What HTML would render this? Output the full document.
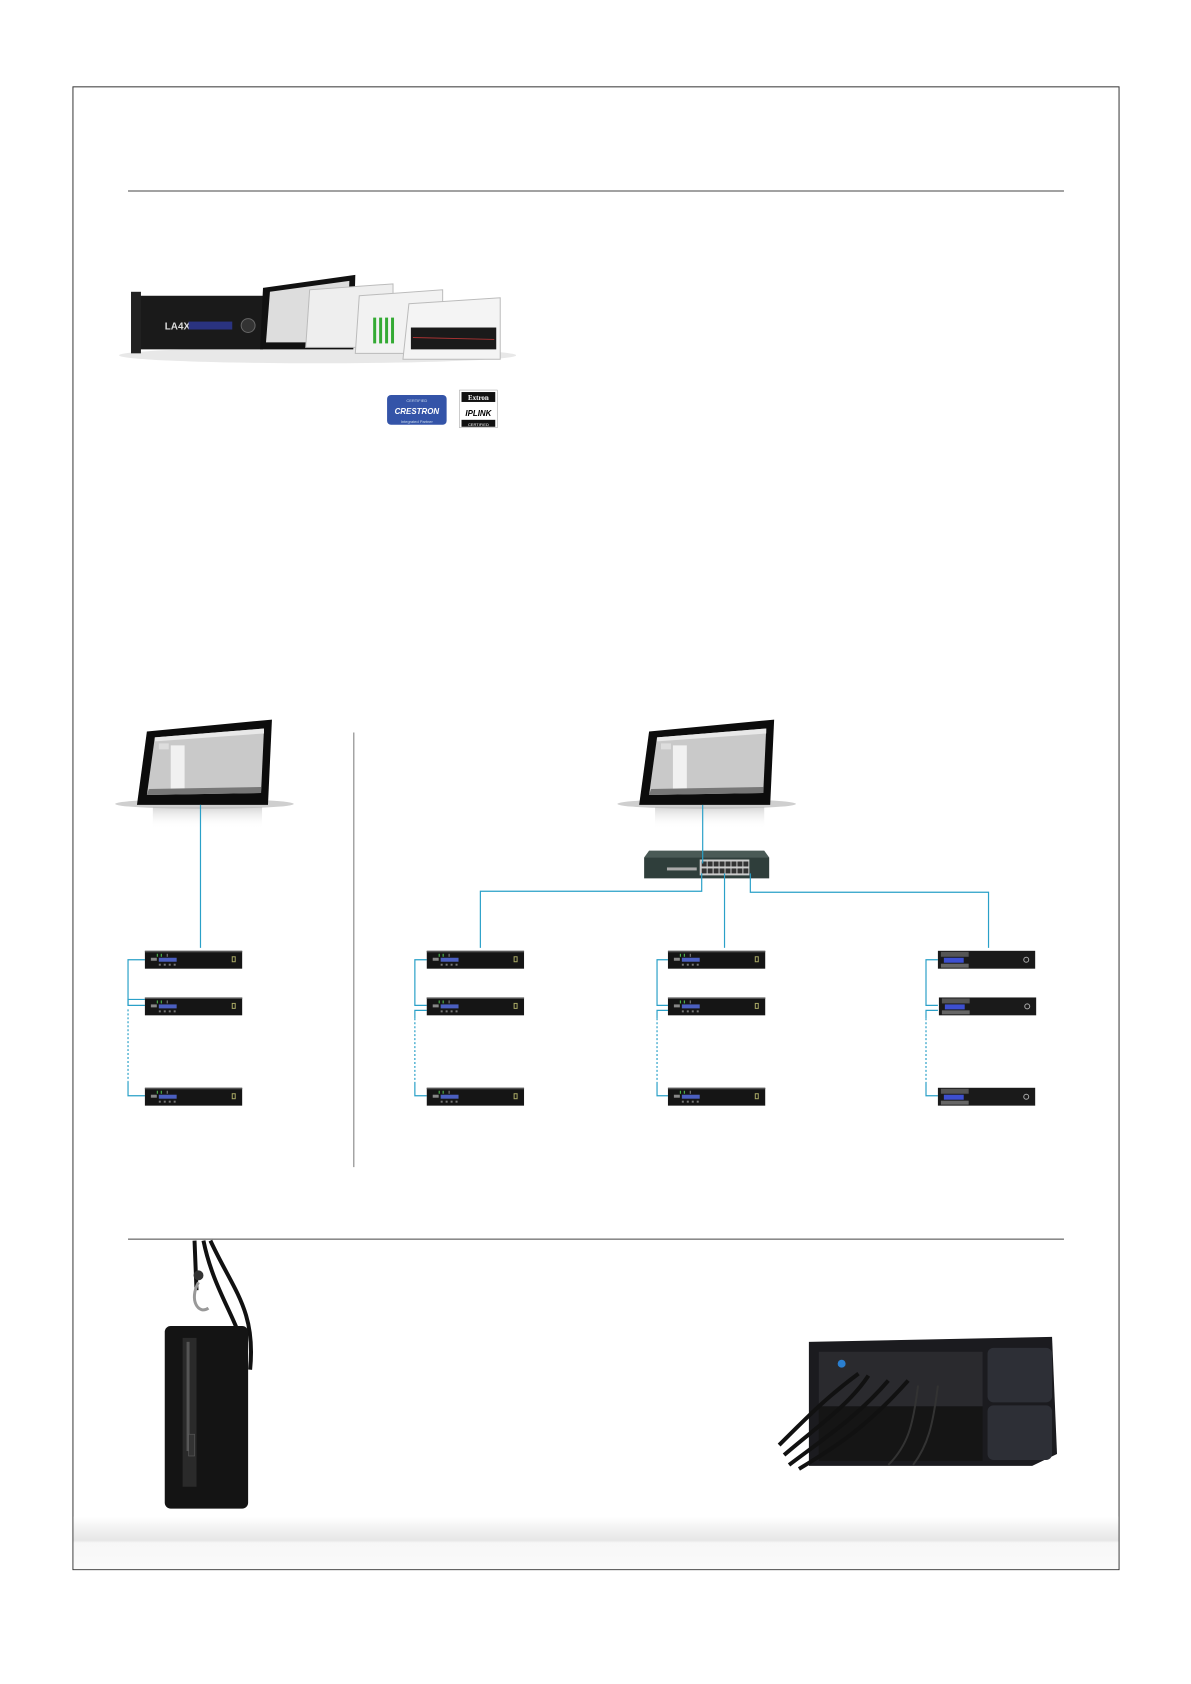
<!DOCTYPE html>
<html><head><meta charset="utf-8"><style>
html,body{margin:0;padding:0;background:#fff;}
body{width:1191px;height:1684px;position:relative;overflow:hidden;font-family:"Liberation Sans",sans-serif;}
</style></head><body>
<svg width="1191" height="1684" viewBox="0 0 1191 1684" xmlns="http://www.w3.org/2000/svg" style="position:absolute;left:0;top:0">
<defs>
<linearGradient id="band" x1="0" y1="0" x2="0" y2="1">
<stop offset="0" stop-color="#fff"/><stop offset="0.45" stop-color="#e6e6e6"/><stop offset="0.5" stop-color="#f7f7f7"/><stop offset="1" stop-color="#fafafa"/></linearGradient>
<linearGradient id="shadow" x1="0" y1="0" x2="0" y2="1"><stop offset="0" stop-color="#bbb"/><stop offset="1" stop-color="#fff" stop-opacity="0"/></linearGradient>
<g id="amp">
<rect x="0" y="0" width="98" height="18" fill="#151515"/>
<rect x="0" y="0" width="98" height="1.5" fill="#555"/>
<rect x="14" y="7" width="18" height="4" fill="#4b5fc0"/>
<rect x="6" y="7" width="6" height="3" fill="#888"/>
<rect x="12" y="3" width="1" height="3" fill="#5c5"/><rect x="16" y="3" width="1" height="3" fill="#5c5"/><rect x="22" y="3" width="1" height="3" fill="#888"/>
<rect x="14" y="13" width="2" height="2" fill="#777"/><rect x="19" y="13" width="2" height="2" fill="#777"/><rect x="24" y="13" width="2" height="2" fill="#777"/><rect x="29" y="13" width="2" height="2" fill="#777"/>
<rect x="88" y="6" width="3" height="5" fill="none" stroke="#aa6" stroke-width="1"/>
</g>
<g id="amp2">
<rect x="0" y="0" width="98" height="18" fill="#1a1a1a"/>
<rect x="3" y="1" width="28" height="5" fill="#555"/>
<rect x="6" y="7" width="20" height="5" fill="#3d4fd0"/>
<rect x="3" y="13" width="28" height="4" fill="#666"/>
<circle cx="89" cy="9" r="2.5" fill="none" stroke="#aaa" stroke-width="1"/>
</g>
<g id="tablet">
<ellipse cx="92" cy="85" rx="90" ry="5" fill="#cfcfcf"/>
<rect x="40" y="88" width="110" height="22" fill="url(#shadow)" opacity="0.6"/>
<polygon points="34,12 160,0 156,86 24,86" fill="#0c0c0c"/>
<polygon points="42,18 152,9 149,74 34,76" fill="#c9c9c9"/>
<polygon points="42,18 152,9 152,14 42,22" fill="#e8e8e8"/>
<rect x="58" y="26" width="14" height="44" fill="#f1f1f1"/>
<rect x="46" y="24" width="10" height="6" fill="#ddd"/>
<polygon points="36,70 149,68 149,74 34,76" fill="#777"/>
</g>
</defs>
<g transform="scale(0.9925)">
<!-- border -->
<rect x="73.5" y="87.5" width="1054" height="1494" fill="none" stroke="#333" stroke-width="1"/>
<line x1="129" y1="192.5" x2="1072" y2="192.5" stroke="#444" stroke-width="1"/>
<line x1="129" y1="1248.5" x2="1072" y2="1248.5" stroke="#444" stroke-width="1"/>

<!-- product image top -->
<ellipse cx="320" cy="358" rx="200" ry="8" fill="#e8e8e8"/>
<rect x="140" y="298" width="125" height="54" fill="#1a1a1a"/>
<rect x="132" y="294" width="10" height="62" fill="#222"/>
<text x="166" y="332" font-size="10" fill="#ddd" font-weight="bold">LA4X</text>
<rect x="190" y="324" width="44" height="8" fill="#2a3380"/>
<circle cx="250" cy="328" r="7" fill="#333" stroke="#666"/>
<polygon points="265,290 358,277 356,352 262,352" fill="#111"/>
<polygon points="272,294 352,283 350,345 268,345" fill="#ddd"/>
<polygon points="312,292 396,286 396,350 308,350" fill="#eee" stroke="#bbb"/>
<polygon points="362,298 446,292 446,356 358,356" fill="#f2f2f2" stroke="#bbb"/>
<rect x="376" y="320" width="3" height="26" fill="#3a3"/><rect x="382" y="320" width="3" height="26" fill="#3a3"/><rect x="388" y="320" width="3" height="26" fill="#3a3"/><rect x="394" y="320" width="3" height="26" fill="#3a3"/>
<polygon points="412,306 504,300 504,362 406,362" fill="#f4f4f4" stroke="#bbb"/>
<rect x="414" y="330" width="86" height="22" fill="#1a1a1a"/>
<line x1="416" y1="340" x2="498" y2="342" stroke="#a33" stroke-width="1"/>

<!-- logos -->
<rect x="390" y="398" width="60" height="30" rx="4" fill="#3454a8"/>
<text x="420" y="417" font-size="8" fill="#fff" text-anchor="middle" font-weight="bold" font-style="italic">CRESTRON</text>
<text x="420" y="405" font-size="4" fill="#cde" text-anchor="middle">CERTIFIED</text>
<text x="420" y="426" font-size="4" fill="#cde" text-anchor="middle">Integrated Partner</text>
<rect x="463" y="393" width="38" height="38" fill="#fff" stroke="#999" stroke-width="0.5"/>
<rect x="465" y="395" width="34" height="10" fill="#111"/>
<text x="482" y="403" font-size="7" fill="#fff" text-anchor="middle" font-family="Liberation Serif" font-weight="bold">Extron</text>
<text x="482" y="419" font-size="8" fill="#000" text-anchor="middle" font-weight="bold" font-style="italic">IPLINK</text>
<rect x="465" y="423" width="34" height="7" fill="#111"/>
<text x="482" y="429" font-size="4" fill="#fff" text-anchor="middle">CERTIFIED</text>

<!-- tablets -->
<use href="#tablet" x="114" y="725"/>
<use href="#tablet" x="620" y="725"/>

<!-- separator -->
<line x1="356.5" y1="738" x2="356.5" y2="1176" stroke="#777" stroke-width="1"/>

<!-- switch -->
<polygon points="654,857 770,857 775,864 649,864" fill="#4a5a56"/>
<rect x="649" y="864" width="126" height="21" fill="#2f3e3b"/>
<rect x="705" y="866" width="50" height="16" fill="#ccc"/>
<g fill="#333"><rect x="707" y="868" width="5" height="5"/><rect x="713" y="868" width="5" height="5"/><rect x="719" y="868" width="5" height="5"/><rect x="725" y="868" width="5" height="5"/><rect x="731" y="868" width="5" height="5"/><rect x="737" y="868" width="5" height="5"/><rect x="743" y="868" width="5" height="5"/><rect x="749" y="868" width="5" height="5"/>
<rect x="707" y="875" width="5" height="5"/><rect x="713" y="875" width="5" height="5"/><rect x="719" y="875" width="5" height="5"/><rect x="725" y="875" width="5" height="5"/><rect x="731" y="875" width="5" height="5"/><rect x="737" y="875" width="5" height="5"/><rect x="743" y="875" width="5" height="5"/><rect x="749" y="875" width="5" height="5"/></g>
<rect x="672" y="874" width="30" height="3" fill="#aaa"/>

<!-- connectors -->
<g stroke="#2aa0c8" stroke-width="1.2" fill="none">
<line x1="202" y1="811" x2="202" y2="955"/>
<line x1="708" y1="811" x2="708" y2="870"/>
<polyline points="707,880 707,898 484,898 484,955"/>
<line x1="730" y1="880" x2="730" y2="955"/>
<polyline points="756,880 756,899 996,899 996,955"/>
<polyline points="146,967 129,967 129,1013 146,1013"/>
<polyline points="146,1007 129,1007 129,1013"/>
<polyline points="146,1104 129,1104 129,1090"/>
<line x1="129" y1="1017" x2="129" y2="1090" stroke-dasharray="2,2"/>
<polyline points="430,967 418,967 418,1013 430,1013"/>
<polyline points="430,1018 418,1018 418,1026"/>
<polyline points="430,1104 418,1104 418,1090"/>
<line x1="418" y1="1026" x2="418" y2="1090" stroke-dasharray="2,2"/>
<polyline points="673,967 662,967 662,1013 673,1013"/>
<polyline points="673,1018 662,1018 662,1026"/>
<polyline points="673,1104 662,1104 662,1090"/>
<line x1="662" y1="1026" x2="662" y2="1090" stroke-dasharray="2,2"/>
<polyline points="945,967 933,967 933,1013 945,1013"/>
<polyline points="945,1018 933,1018 933,1026"/>
<polyline points="945,1104 933,1104 933,1090"/>
<line x1="933" y1="1026" x2="933" y2="1090" stroke-dasharray="2,2"/>
</g>

<!-- amps -->
<use href="#amp" x="146" y="958"/><use href="#amp" x="146" y="1005"/><use href="#amp" x="146" y="1096"/>
<use href="#amp" x="430" y="958"/><use href="#amp" x="430" y="1005"/><use href="#amp" x="430" y="1096"/>
<use href="#amp" x="673" y="958"/><use href="#amp" x="673" y="1005"/><use href="#amp" x="673" y="1096"/>
<use href="#amp2" x="945" y="958"/><use href="#amp2" x="946" y="1005"/><use href="#amp2" x="945" y="1096"/>

<!-- bottom band -->
<rect x="74" y="1528" width="1053" height="53" fill="url(#band)"/>

<!-- hanging bag -->
<path d="M196 1250 L198 1300 M205 1250 C215 1300 240 1330 245 1360 M212 1250 C235 1300 258 1320 252 1380" stroke="#111" stroke-width="4" fill="none"/>
<circle cx="200" cy="1285" r="5" fill="#333"/>
<path d="M200 1292 C190 1310 200 1325 210 1318" stroke="#999" stroke-width="3" fill="none"/>
<rect x="166" y="1336" width="84" height="184" rx="6" fill="#141414"/>
<rect x="184" y="1348" width="14" height="150" fill="#2a2a2a"/>
<rect x="188" y="1352" width="3" height="110" fill="#555"/>
<rect x="190" y="1445" width="6" height="22" fill="#333" stroke="#666" stroke-width="0.5"/>

<!-- rack bag -->
<path d="M815 1352 L1060 1347 L1065 1465 L1040 1477 L815 1477 Z" fill="#1b1b1f"/>
<rect x="825" y="1362" width="165" height="55" fill="#2a2a2e"/>
<rect x="995" y="1358" width="65" height="55" rx="6" fill="#2d2f36"/>
<rect x="995" y="1416" width="65" height="55" rx="6" fill="#2d2f36"/>
<circle cx="848" cy="1374" r="4" fill="#2a7fd0"/>
<rect x="825" y="1417" width="165" height="55" fill="#151515"/>
<path d="M790 1466 C825 1436 855 1416 875 1386 M795 1476 C835 1446 865 1426 895 1391 M805 1480 C845 1456 875 1436 915 1391 M785 1456 C815 1426 835 1406 865 1384" stroke="#111" stroke-width="4" fill="none"/>
<path d="M925 1396 C920 1436 915 1456 895 1476 M945 1396 C940 1436 935 1456 920 1476" stroke="#333" stroke-width="2" fill="none"/>
</g>
</svg>
</body></html>
